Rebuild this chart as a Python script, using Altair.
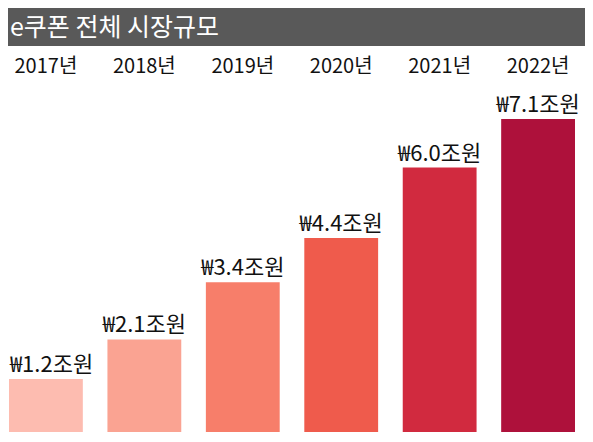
import altair as alt
import pandas as pd

years = ["2017년", "2018년", "2019년", "2020년", "2021년", "2022년"]
values = [1.2, 2.1, 3.4, 4.4, 6.0, 7.1]
labels = ["₩1.2조원", "₩2.1조원", "₩3.4조원", "₩4.4조원", "₩6.0조원", "₩7.1조원"]
colors = ["#FDBCB0", "#FAA392", "#F77E6A", "#EF5B4C", "#D12A3F", "#AE113B"]
title_text = ["e쿠폰 전체 시장규모"]

FONT = "Noto Sans CJK KR"

df = pd.DataFrame({"year": years, "value": values, "label": labels, "color": colors})
tdf = pd.DataFrame({"title": title_text})

x = alt.X("year:N", sort=years, scale=alt.Scale(paddingInner=0.25, paddingOuter=0), axis=None)
y = alt.Y("value:Q", scale=alt.Scale(domain=[0, 7.76], nice=False), axis=None)

base = alt.Chart(df).encode(x=x)

bars = base.mark_bar().encode(y=y, color=alt.Color("color:N", scale=None))
vals = base.transform_filter(alt.datum.year != years[0]).mark_text(
    baseline="bottom", dy=-2, fontSize=22, font=FONT, color="#111111").encode(
    y=y, text="label:N")
vals_first = base.transform_filter(alt.datum.year == years[0]).mark_text(
    align="left", baseline="bottom", dx=-36, dy=-2, fontSize=22, font=FONT,
    color="#111111").encode(y=y, text="label:N")
yrs = base.mark_text(baseline="middle", fontSize=20, font=FONT, color="#111111").encode(
    y=alt.value(-23), text="year:N")

band = alt.Chart(tdf).mark_rect(color="#595959").encode(
    x=alt.value(-1), x2=alt.value(577), y=alt.value(-82), y2=alt.value(-44))
ttl = alt.Chart(tdf).mark_text(align="left", baseline="middle", fontSize=25, font=FONT,
                               color="white").encode(
    x=alt.value(1), y=alt.value(-62), text="title:N")

chart = alt.layer(band, ttl, bars, vals, vals_first, yrs).properties(
    width=566, height=342,
    padding={"left": 1, "top": 82, "right": 10, "bottom": 2},
    autosize="none",
).configure_view(stroke=None)

chart.save("out.html", embed_options={"renderer": "svg", "actions": False})
